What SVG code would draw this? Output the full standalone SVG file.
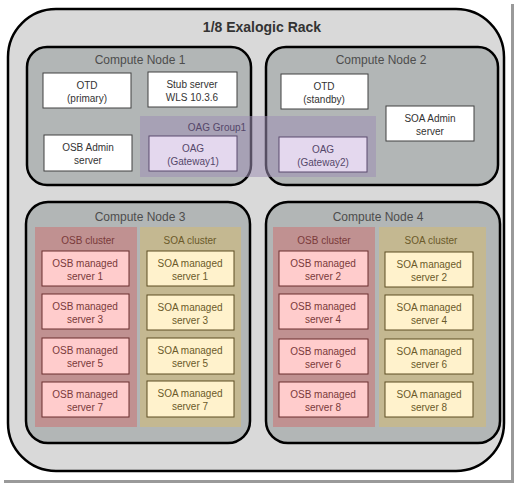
<svg xmlns="http://www.w3.org/2000/svg" width="516" height="484" viewBox="0 0 516 484">
<style>
text{font-family:"Liberation Sans",Arial,sans-serif;text-anchor:middle}
.rack{fill:#d9d9d9;stroke:#000;stroke-width:2.5}
.node{fill:#b2b6b6;stroke:#000;stroke-width:2.5}
.ntitle{font-size:12px;fill:#4d4d4d}
.wbox{fill:#fff;stroke:#404040;stroke-width:1}
.wt{font-size:10px;fill:#333}
.osbc{fill:#c09191}
.soac{fill:#c4b891}
.osbb{fill:#ffcccc;stroke:#6b2f2f;stroke-width:1}
.soab{fill:#fff2cc;stroke:#5c4c22;stroke-width:1}
.osbt{font-size:10px;fill:#7a3a3a}
.soat{font-size:10px;fill:#6b5a2a}
.oagg{fill:#9f8fb5;fill-opacity:0.55}
.oagb{fill:#e4d8ee;stroke:#5b4a6e;stroke-width:1}
.oagt{font-size:10px;fill:#55476a}
</style>
<rect x="0" y="0" width="516" height="484" fill="#fff"/>
<rect x="511" y="4" width="3" height="479" fill="#9a9a9a"/>
<rect x="4" y="480" width="510" height="3" fill="#9a9a9a"/>
<g id="rack">
<rect class="rack" x="8" y="9" width="496" height="462" rx="48"/>
<text x="262" y="32" style="font-size:14px;font-weight:bold;fill:#333">1/8 Exalogic Rack</text>
</g>
<g id="compute-node-1">
<rect class="node" x="27" y="47" width="224" height="138" rx="20"/>
<text class="ntitle" x="140" y="64">Compute Node 1</text>
</g>
<g id="compute-node-2">
<rect class="node" x="266" y="47" width="232" height="138" rx="20"/>
<text class="ntitle" x="381" y="64">Compute Node 2</text>
</g>
<g id="oag-group1">
<rect class="oagg" x="140" y="116" width="236" height="61"/>
<text x="217" y="131" style="font-size:10px;fill:#55476a">OAG Group1</text>
</g>
<g id="otd-primary">
<rect class="wbox" x="43" y="73" width="88" height="35"/>
<text class="wt" x="87" y="89">OTD</text><text class="wt" x="87" y="102">(primary)</text>
</g>
<g id="stub-server">
<rect class="wbox" x="148" y="72" width="89" height="35"/>
<text class="wt" x="192" y="88">Stub server</text><text class="wt" x="192" y="101">WLS 10.3.6</text>
</g>
<g id="osb-admin">
<rect class="wbox" x="44" y="135" width="88" height="36"/>
<text class="wt" x="88" y="151">OSB Admin</text><text class="wt" x="88" y="164">server</text>
</g>
<g id="oag-gateway1">
<rect class="oagb" x="149" y="136" width="88" height="35"/>
<text class="oagt" x="193" y="152">OAG</text><text class="oagt" x="193" y="165">(Gateway1)</text>
</g>
<g id="otd-standby">
<rect class="wbox" x="281" y="74" width="87" height="35"/>
<text class="wt" x="324" y="90">OTD</text><text class="wt" x="324" y="103">(standby)</text>
</g>
<g id="soa-admin">
<rect class="wbox" x="386" y="106" width="88" height="35"/>
<text class="wt" x="430" y="122">SOA Admin</text><text class="wt" x="430" y="135">server</text>
</g>
<g id="oag-gateway2">
<rect class="oagb" x="279" y="137" width="88" height="35"/>
<text class="oagt" x="323" y="153">OAG</text><text class="oagt" x="323" y="166">(Gateway2)</text>
</g>
<g id="compute-node-3">
<rect class="node" x="26" y="202" width="224" height="241" rx="22"/>
<text class="ntitle" x="140" y="221">Compute Node 3</text>
</g>
<g id="compute-node-4">
<rect class="node" x="266" y="202" width="234" height="241" rx="22"/>
<text class="ntitle" x="378" y="221">Compute Node 4</text>
</g>
<g id="osb-cluster-3">
<rect class="osbc" x="35" y="227" width="102" height="200"/>
<text class="osbt" x="88" y="244">OSB cluster</text>
</g>
<g id="soa-cluster-3">
<rect class="soac" x="140" y="227" width="101" height="200"/>
<text class="soat" x="190" y="244">SOA cluster</text>
</g>
<g id="osb-cluster-4">
<rect class="osbc" x="273" y="227" width="102" height="200"/>
<text class="osbt" x="324" y="244">OSB cluster</text>
</g>
<g id="soa-cluster-4">
<rect class="soac" x="379" y="227" width="107" height="200"/>
<text class="soat" x="431" y="244">SOA cluster</text>
</g>
<g id="osb-ms-1"><rect class="osbb" x="42" y="251" width="87" height="35"/><text class="osbt" x="85" y="267">OSB managed</text><text class="osbt" x="85" y="280">server 1</text></g>
<g id="osb-ms-3"><rect class="osbb" x="42" y="294" width="87" height="35"/><text class="osbt" x="85" y="310">OSB managed</text><text class="osbt" x="85" y="323">server 3</text></g>
<g id="osb-ms-5"><rect class="osbb" x="42" y="338" width="87" height="36"/><text class="osbt" x="85" y="354">OSB managed</text><text class="osbt" x="85" y="367">server 5</text></g>
<g id="osb-ms-7"><rect class="osbb" x="42" y="382" width="87" height="35"/><text class="osbt" x="85" y="398">OSB managed</text><text class="osbt" x="85" y="411">server 7</text></g>
<g id="soa-ms-1"><rect class="soab" x="147" y="251" width="87" height="35"/><text class="soat" x="190" y="267">SOA managed</text><text class="soat" x="190" y="280">server 1</text></g>
<g id="soa-ms-3"><rect class="soab" x="147" y="295" width="87" height="35"/><text class="soat" x="190" y="311">SOA managed</text><text class="soat" x="190" y="324">server 3</text></g>
<g id="soa-ms-5"><rect class="soab" x="147" y="338" width="87" height="36"/><text class="soat" x="190" y="354">SOA managed</text><text class="soat" x="190" y="367">server 5</text></g>
<g id="soa-ms-7"><rect class="soab" x="147" y="381" width="87" height="36"/><text class="soat" x="190" y="397">SOA managed</text><text class="soat" x="190" y="410">server 7</text></g>
<g id="osb-ms-2"><rect class="osbb" x="279" y="251" width="89" height="35"/><text class="osbt" x="323" y="267">OSB managed</text><text class="osbt" x="323" y="280">server 2</text></g>
<g id="osb-ms-4"><rect class="osbb" x="279" y="294" width="89" height="35"/><text class="osbt" x="323" y="310">OSB managed</text><text class="osbt" x="323" y="323">server 4</text></g>
<g id="osb-ms-6"><rect class="osbb" x="279" y="339" width="89" height="35"/><text class="osbt" x="323" y="355">OSB managed</text><text class="osbt" x="323" y="368">server 6</text></g>
<g id="osb-ms-8"><rect class="osbb" x="279" y="382" width="89" height="35"/><text class="osbt" x="323" y="398">OSB managed</text><text class="osbt" x="323" y="411">server 8</text></g>
<g id="soa-ms-2"><rect class="soab" x="385" y="252" width="88" height="35"/><text class="soat" x="429" y="268">SOA managed</text><text class="soat" x="429" y="281">server 2</text></g>
<g id="soa-ms-4"><rect class="soab" x="385" y="295" width="88" height="35"/><text class="soat" x="429" y="311">SOA managed</text><text class="soat" x="429" y="324">server 4</text></g>
<g id="soa-ms-6"><rect class="soab" x="385" y="339" width="88" height="35"/><text class="soat" x="429" y="355">SOA managed</text><text class="soat" x="429" y="368">server 6</text></g>
<g id="soa-ms-8"><rect class="soab" x="385" y="382" width="88" height="35"/><text class="soat" x="429" y="398">SOA managed</text><text class="soat" x="429" y="411">server 8</text></g>
<g id="connectors"></g>
</svg>
